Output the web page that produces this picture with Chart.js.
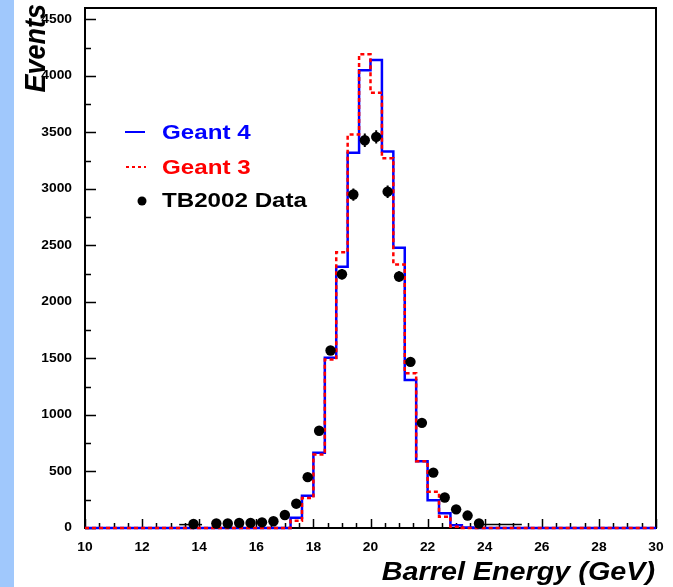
<!DOCTYPE html>
<html>
<head>
<meta charset="utf-8">
<script src="https://cdn.jsdelivr.net/npm/chart.js@4.4.1/dist/chart.umd.min.js"></script>
<style>
  html, body { margin: 0; padding: 0; background: #fff; }
  canvas { display: block; }
</style>
</head>
<body>
<canvas id="chart" width="673" height="587"></canvas>
<script>
// histogram binning: 50 bins of 0.4 GeV between 10 and 30 GeV
const binStart = 10;
const binWidth = 0.4;

const geant4 = [
  0, 0, 0, 0, 0, 0, 0, 0, 0, 0,
  0, 0, 0, 0, 0, 0, 0, 0, 90, 285,
  665, 1505, 2310, 3320, 4050, 4140, 3330, 2480, 1310, 590,
  245, 130, 25, 5, 0, 0, 0, 0, 0, 0,
  0, 0, 0, 0, 0, 0, 0, 0, 0, 0,
];
const geant3 = [
  0, 0, 0, 0, 0, 0, 0, 0, 0, 0,
  0, 0, 0, 0, 0, 0, 0, 0, 65, 265,
  650, 1490, 2440, 3480, 4190, 3850, 3270, 2330, 1370, 590,
  320, 100, 10, 0, 0, 0, 0, 0, 0, 0,
  0, 0, 0, 0, 0, 0, 0, 0, 0, 0,
];

// TB2002 data points
const dataEnergy = [13.8, 14.6, 15.0, 15.4, 15.8, 16.2, 16.6, 17.0, 17.4, 17.8, 18.2, 18.6, 19.0,
                    19.4, 19.8, 20.2, 20.6, 21.0, 21.4, 21.8, 22.2, 22.6, 23.0, 23.4, 23.8];
const dataEvents = [35, 40, 40, 45, 45, 50, 60, 115, 215, 450, 860, 1570, 2245,
                    2950, 3430, 3460, 2975, 2225, 1470, 930, 490, 270, 165, 110, 40];
const dataErrors = [6, 6, 6, 7, 7, 7, 8, 11, 15, 21, 29, 40, 47,
                    54, 59, 59, 55, 47, 38, 30, 22, 16, 13, 10, 6];

// flat black segments in the data tails
const tailLowEnergy  = [13.3, 14.1];
const tailHighEnergy = [23.9, 25.3];
const tailEvents = 30;

// axis ticks
const yTickLabels = [0, 500, 1000, 1500, 2000, 2500, 3000, 3500, 4000, 4500];
const xTickLabels = [10, 12, 14, 16, 18, 20, 22, 24, 26, 28, 30];

const FONT = "'Liberation Sans', Arial, Helvetica, sans-serif";
const BLUE = '#0000ff';
const RED = '#ff0000';

function histPoints(values) {
  const pts = values.map((v, i) => ({ x: binStart + i * binWidth, y: v }));
  pts.push({ x: binStart + values.length * binWidth, y: values[values.length - 1] });
  return pts;
}

// draw text with the slight horizontal stretch of the original picture
function drawText(ctx, str, x, y, font, color, align, baseline, sx) {
  ctx.save();
  ctx.translate(x, y);
  ctx.scale(sx || 1.15, 1);
  ctx.font = font;
  ctx.fillStyle = color;
  ctx.textAlign = align;
  ctx.textBaseline = baseline;
  ctx.fillText(str, 0, 0);
  ctx.restore();
}

const paperPlugin = {
  id: 'paper',
  beforeDraw(chart) {
    const ctx = chart.ctx;
    ctx.save();
    ctx.fillStyle = '#ffffff';
    ctx.fillRect(0, 0, chart.width, chart.height);
    ctx.fillStyle = '#a0c8fc';
    ctx.fillRect(0, 0, 14, chart.height);
    ctx.restore();
  },
  beforeDatasetsDraw(chart) {
    const { ctx, chartArea: a, scales } = chart;
    const x = scales.x, y = scales.y;
    ctx.save();
    ctx.strokeStyle = '#000';
    ctx.lineWidth = 2;
    ctx.strokeRect(a.left, a.top, a.right - a.left, a.bottom - a.top);
    ctx.lineWidth = 1.5;
    ctx.beginPath();
    // y ticks, inward: major 500, minor 250
    for (let v = 0; v <= y.max; v += 250) {
      const py = Math.round(y.getPixelForValue(v)) + 0.5;
      const len = v % 500 === 0 ? 11 : 6;
      ctx.moveTo(a.left, py);
      ctx.lineTo(a.left + len, py);
    }
    // x ticks, inward: major 2, minor 0.5
    for (let v = x.min; v <= x.max + 1e-6; v += 0.5) {
      const px = Math.round(x.getPixelForValue(v)) + 0.5;
      const len = Math.abs(v / 2 - Math.round(v / 2)) < 1e-6 ? 9 : 5;
      ctx.moveTo(px, a.bottom);
      ctx.lineTo(px, a.bottom - len);
    }
    ctx.stroke();
    ctx.restore();
  },
  afterDatasetsDraw(chart) {
    const ctx = chart.ctx;
    const y = chart.scales.y;
    const meta = chart.getDatasetMeta(0);
    ctx.save();
    ctx.strokeStyle = '#000';
    ctx.lineWidth = 2;
    ctx.beginPath();
    meta.data.forEach((pt, i) => {
      const v = dataEvents[i], e = dataErrors[i];
      ctx.moveTo(pt.x, y.getPixelForValue(v + e));
      ctx.lineTo(pt.x, y.getPixelForValue(v - e));
    });
    ctx.stroke();
    ctx.restore();
  },
  afterDraw(chart) {
    const { ctx, scales } = chart;
    const bold12 = 'bold 12px ' + FONT;
    yTickLabels.forEach(v => {
      drawText(ctx, String(v), 72, scales.y.getPixelForValue(v), bold12, '#000', 'right', 'middle');
    });
    xTickLabels.forEach(v => {
      drawText(ctx, String(v), scales.x.getPixelForValue(v), 548, bold12, '#000', 'center', 'middle');
    });

    // axis titles
    drawText(ctx, 'Barrel Energy (GeV)', 655, 580, 'italic bold 25px ' + FONT, '#000', 'right', 'alphabetic');
    ctx.save();
    ctx.translate(45, 4);
    ctx.rotate(-Math.PI / 2);
    ctx.scale(1, 1.12);
    ctx.font = 'italic bold 27px ' + FONT;
    ctx.fillStyle = '#000';
    ctx.textAlign = 'right';
    ctx.textBaseline = 'alphabetic';
    ctx.fillText('Events', 0, 0);
    ctx.restore();

    // legend
    const ds = chart.data.datasets;
    const legendFont = 'bold 21px ' + FONT;
    ctx.save();
    ctx.lineWidth = 2;
    ctx.strokeStyle = BLUE;
    ctx.beginPath(); ctx.moveTo(125, 132); ctx.lineTo(145, 132); ctx.stroke();
    ctx.strokeStyle = RED;
    ctx.setLineDash([3, 3]);
    ctx.beginPath(); ctx.moveTo(126, 167); ctx.lineTo(146, 167); ctx.stroke();
    ctx.setLineDash([]);
    ctx.fillStyle = '#000';
    ctx.beginPath(); ctx.arc(142, 201, 4.5, 0, Math.PI * 2); ctx.fill();
    ctx.restore();
    drawText(ctx, ds[2].label, 162, 133, legendFont, BLUE, 'left', 'middle');
    drawText(ctx, ds[1].label, 162, 168, legendFont, RED, 'left', 'middle');
    drawText(ctx, ds[0].label, 162, 201, legendFont, '#000', 'left', 'middle');
  },
};

new Chart(document.getElementById('chart'), {
  type: 'line',
  data: {
    datasets: [
      {
        label: 'TB2002 Data',
        data: dataEnergy.map((e, i) => ({ x: e, y: dataEvents[i] })),
        showLine: false,
        pointRadius: 5.2,
        pointBackgroundColor: '#000',
        pointBorderWidth: 0,
        clip: false,
      },
      {
        label: 'Geant 3',
        data: histPoints(geant3),
        stepped: 'before',
        borderColor: RED,
        borderWidth: 2.5,
        borderDash: [4, 3],
        pointRadius: 0,
        clip: false,
      },
      {
        label: 'Geant 4',
        data: histPoints(geant4),
        stepped: 'before',
        borderColor: BLUE,
        borderWidth: 2.5,
        pointRadius: 0,
        clip: false,
      },
      {
        label: 'tail low',
        data: tailLowEnergy.map(e => ({ x: e, y: tailEvents })),
        borderColor: '#000',
        borderWidth: 1.5,
        pointRadius: 0,
      },
      {
        label: 'tail high',
        data: tailHighEnergy.map(e => ({ x: e, y: tailEvents })),
        borderColor: '#000',
        borderWidth: 1.5,
        pointRadius: 0,
      },
    ],
  },
  options: {
    responsive: false,
    animation: false,
    layout: { padding: { top: 8, right: 17, left: 0, bottom: 0 } },
    plugins: { legend: { display: false }, tooltip: { enabled: false } },
    scales: {
      x: {
        type: 'linear',
        min: 10,
        max: 30,
        ticks: { display: false },
        grid: { display: false, drawTicks: false },
        border: { display: false },
        afterFit: s => { s.height = 59; },
      },
      y: {
        min: 0,
        max: 4600,
        ticks: { display: false },
        grid: { display: false, drawTicks: false },
        border: { display: false },
        afterFit: s => { s.width = 85; },
      },
    },
  },
  plugins: [paperPlugin],
});
</script>
</body>
</html>
